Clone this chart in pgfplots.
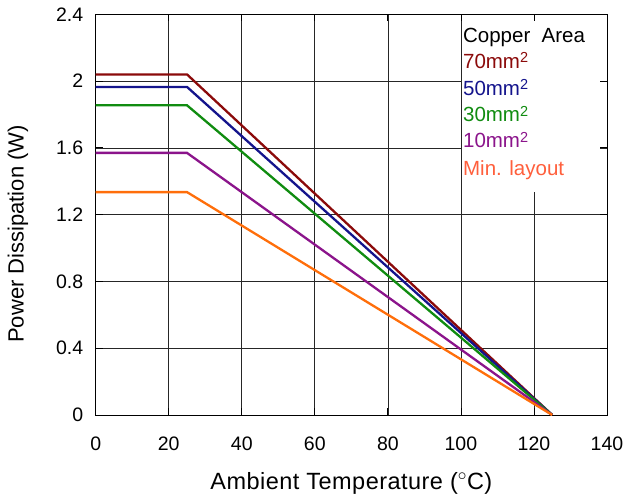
\documentclass[border=0pt]{standalone}
\usepackage{pgfplots}
\pgfplotsset{compat=1.18}
\usepackage{fontspec}
\setmainfont{Liberation Sans}
\newfontfamily\spacedfont[LetterSpace=2]{Liberation Sans}
\definecolor{cA}{RGB}{139,10,10}
\definecolor{cB}{RGB}{20,20,140}
\definecolor{cC}{RGB}{16,140,16}
\definecolor{cD}{RGB}{139,20,139}
\definecolor{cE}{RGB}{255,110,10}
\definecolor{cEt}{RGB}{255,95,60}
\newcommand\sq{\raisebox{5.5pt}{\fontsize{14.5}{14.5}\selectfont 2}}
\begin{document}
\begin{tikzpicture}
\begin{axis}[
  scale only axis, width=511.3pt, height=400.7pt,
  xmin=0, xmax=140, ymin=0, ymax=2.4,
  xtick={0,20,...,140}, ytick={0,0.4,0.8,1.2,1.6,2,2.4},
  yticklabels={0,0.4,0.8,1.2,1.6,2,2.4},
  scaled ticks=false,
  /pgf/number format/assume math mode=true,
  tick label style={font=\fontsize{19.5}{20}\selectfont},
  xticklabel style={yshift=-18pt},
  yticklabel style={xshift=-9pt},
  major tick length=7pt,
  tick style={black, line width=0.8pt},
  grid=major,
  major grid style={black!85, line width=0.7pt},
  axis line style={black, line width=1pt},
  xlabel={Ambient Temperature ($^{\circ}$C)},
  ylabel={Power Dissipation (W)},
  xlabel style={font=\spacedfont\fontsize{23.5}{24}\selectfont, at={(axis description cs:0.5,-0.1697)}, anchor=center},
  ylabel style={font=\fontsize{22}{23}\selectfont, at={(axis description cs:-0.152,0.452)}, anchor=center},
  clip=false,
]
\addplot[cA, line width=2.3pt] coordinates {(0,2.04) (25,2.04) (125,0)};
\addplot[cB, line width=2.3pt] coordinates {(0,1.965) (25,1.965) (125,0)};
\addplot[cC, line width=2.3pt] coordinates {(0,1.855) (25,1.855) (125,0)};
\addplot[cD, line width=2.3pt] coordinates {(0,1.57) (25,1.57) (125,0)};
\addplot[cE, line width=2.3pt] coordinates {(0,1.335) (25,1.335) (125,0)};
\fill[white] ([xshift=0.6pt]axis cs:100,1.335) rectangle ([xshift=-7pt,yshift=-7pt]axis cs:140,2.4);
\begin{scope}[every node/.style={anchor=base west, inner sep=0pt, font=\fontsize{20.5}{21}\selectfont}]
\node at (axis cs:100.55,2.231) {Copper\ \ Area};
\node[text=cA] at (axis cs:100.55,2.076) {70mm\sq};
\node[text=cB] at (axis cs:100.55,1.916) {50mm\sq};
\node[text=cC] at (axis cs:100.55,1.756) {30mm\sq};
\node[text=cD] at (axis cs:100.55,1.600) {10mm\sq};
\node[text=cEt] at (axis cs:100.55,1.437) {Min. layout};
\end{scope}
\coordinate (O) at (axis cs:0,0);
\end{axis}
\pgfresetboundingbox
\useasboundingbox ([shift={(-95.7pt,-83pt)}]O) rectangle ([shift={(530.3pt,415pt)}]O);
\end{tikzpicture}
\end{document}
